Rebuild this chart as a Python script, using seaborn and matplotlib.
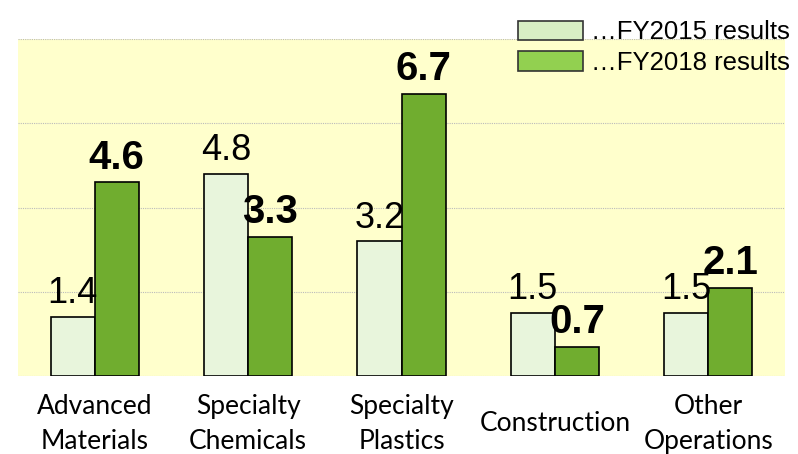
import numpy as np
import pandas as pd
import matplotlib
matplotlib.use("Agg")
import matplotlib.pyplot as plt
from matplotlib.patches import Patch
import seaborn as sns

categories = ["Advanced\nMaterials", "Specialty\nChemicals", "Specialty\nPlastics",
              "Construction", "Other\nOperations"]
fy2015 = [1.4, 4.8, 3.2, 1.5, 1.5]
fy2018 = [4.6, 3.3, 6.7, 0.7, 2.1]
series = ["…FY2015 results", "…FY2018 results"]

df = pd.DataFrame({
    "segment": categories * 2,
    "value": fy2015 + fy2018,
    "series": [series[0]] * 5 + [series[1]] * 5,
})

bar_colors = ["#E8F5DC", "#70AD2F"]
legend_colors = ["#D8EEC4", "#92D050"]

sns.set_style("white")
plt.rcParams["font.family"] = ["Liberation Sans", "DejaVu Sans"]
plt.rcParams["text.color"] = "black"

fig = plt.figure(figsize=(7.98, 4.54), dpi=100)
ax = fig.add_axes([0.0226, 0.1718, 0.9611, 0.7423])
ax.set_facecolor("#FFFFCC")

sns.barplot(data=df, x="segment", y="value", hue="series", palette=bar_colors,
            saturation=1, width=0.575, edgecolor="black", linewidth=1.2, ax=ax,
            legend=False, zorder=3)

ax.set_ylim(0, 8)
ax.set_xlim(-0.5, 4.5)
ax.set_yticks([0, 2, 4, 6, 8])
ax.yaxis.grid(True, color="#BBBBBB", linestyle=(0, (1, 1)), linewidth=0.8, zorder=0)
ax.set_axisbelow(True)
ax.tick_params(axis="y", left=False, labelleft=False)
ax.tick_params(axis="x", bottom=False, pad=31)
for s in ax.spines.values():
    s.set_visible(False)
ax.set_xlabel("")
ax.set_ylabel("")
for lbl in ax.get_xticklabels():
    lbl.set_fontfamily("Lato")
    lbl.set_fontsize(19)
    lbl.set_color("black")
    lbl.set_linespacing(1.5)
    lbl.set_verticalalignment("center")

# value labels: FY2015 plain, FY2018 bold
for cont, weight, size in zip(ax.containers, ["normal", "bold"], [26, 29]):
    ax.bar_label(cont, labels=[f"{v:.1f}" for v in cont.datavalues],
                 padding=4, fontsize=size, fontweight=weight, color="black",
                 zorder=5)

handles = [Patch(facecolor=c, edgecolor="#333333", linewidth=1.2) for c in legend_colors]
fig.legend(handles, series, loc="upper right", bbox_to_anchor=(0.99, 0.955),
           frameon=False, fontsize=18.5, handlelength=2.53, handleheight=0.78,
           handletextpad=0.3, labelspacing=0.25, borderaxespad=0, borderpad=0,
           labelcolor="black")

fig.savefig("out.png", dpi=100, facecolor="white")
